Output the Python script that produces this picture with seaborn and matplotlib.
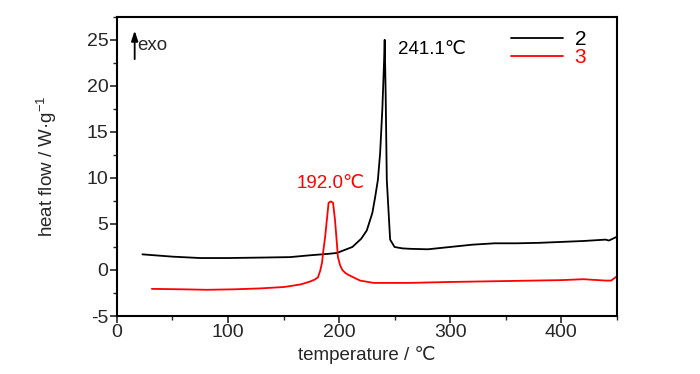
import pandas as pd
import matplotlib.pyplot as plt
import seaborn as sns
from matplotlib.ticker import MultipleLocator

# === DSC traces ===
temp_2 = [23, 50, 75, 100, 130, 156, 174, 190, 198, 212, 220, 225, 230, 232.5, 235, 237,
          239, 240.5, 241.1, 242, 243, 246, 250, 257, 264, 280, 300, 320, 340, 360, 380,
          400, 420, 440, 443, 450]
flow_2 = [1.7, 1.45, 1.3, 1.3, 1.35, 1.4, 1.6, 1.75, 1.85, 2.5, 3.4, 4.3, 6.2, 7.9, 9.8, 12.7,
          17.5, 22.5, 25.0, 19.0, 9.8, 3.3, 2.5, 2.35, 2.3, 2.25, 2.5, 2.75, 2.9, 2.9, 2.95,
          3.05, 3.15, 3.3, 3.2, 3.6]

temp_3 = [31.5, 60, 81, 105, 129, 150, 156, 166, 174, 178, 181, 183, 184.7, 185.6, 187.5, 189,
          190.6, 192.6, 194.6, 196.4, 198, 199, 201, 203, 205.5, 208, 213, 219, 231, 264, 300,
          350, 400, 420, 440, 445, 450]
flow_3 = [-2.05, -2.1, -2.15, -2.1, -2.0, -1.85, -1.75, -1.55, -1.25, -1.05, -0.8, -0.1, 0.8, 1.85, 3.6, 5.4,
          7.3, 7.45, 7.3, 5.4, 3.0, 1.4, 0.5, 0.0, -0.3, -0.5, -0.8, -1.15, -1.4, -1.4, -1.3,
          -1.2, -1.1, -1.0, -1.15, -1.15, -0.7]

series_names = ["2", "3"]
series_colors = ["black", "red"]

peak_labels = ["241.1℃", "192.0℃"]


def build_frame():
    df2 = pd.DataFrame({"temperature": temp_2, "heat flow": flow_2, "sample": series_names[0]})
    df3 = pd.DataFrame({"temperature": temp_3, "heat flow": flow_3, "sample": series_names[1]})
    return pd.concat([df2, df3], ignore_index=True)


def main():
    sns.set_style("ticks")
    plt.rcParams["font.family"] = ["Liberation Sans", "DejaVu Sans"]
    plt.rcParams["axes.unicode_minus"] = False
    plt.rcParams["mathtext.fontset"] = "custom"
    plt.rcParams["mathtext.rm"] = "Liberation Sans"

    df = build_frame()

    fig = plt.figure(figsize=(7.0, 3.74), dpi=100)
    ax = fig.add_axes([0.167, 0.155, 0.714, 0.8])

    sns.lineplot(data=df, x="temperature", y="heat flow", hue="sample",
                 palette=dict(zip(series_names, series_colors)), sort=False,
                 estimator=None, linewidth=1.3, ax=ax)

    ax.set_xlim(0, 450)
    ax.set_ylim(-5, 27.5)
    ax.xaxis.set_major_locator(MultipleLocator(100))
    ax.xaxis.set_minor_locator(MultipleLocator(50))
    ax.yaxis.set_major_locator(MultipleLocator(5))
    ax.yaxis.set_minor_locator(MultipleLocator(2.5))
    ax.tick_params(which="major", direction="out", length=5, width=1.2, labelsize=14, pad=1)
    ax.tick_params(which="minor", direction="out", length=3, width=1.0)
    ax.tick_params(top=False, right=False, which="both")
    for sp in ax.spines.values():
        sp.set_linewidth(1.5)
        sp.set_color("black")

    ax.set_xlabel("temperature / ℃", fontsize=13.5, labelpad=3)
    ax.set_ylabel("heat flow / W·g$^{\\mathrm{-1}}$", fontsize=13.5, labelpad=20)

    # peak annotations
    ax.text(253, 23.9, peak_labels[0], color="black", fontsize=13.5, ha="left", va="center")
    ax.text(192, 9.4, peak_labels[1], color="red", fontsize=13.5, ha="center", va="center")

    # exo arrow
    ax.annotate("", xy=(16, 26.3), xytext=(16, 22.6),
                arrowprops=dict(arrowstyle="-|>,head_width=0.2,head_length=0.6",
                                color="black", lw=1.3))
    ax.text(18.5, 24.4, "exo", fontsize=13.5, ha="left", va="center")

    leg = ax.legend(loc="upper right", frameon=False, fontsize=15, handlelength=2.5,
                    labelspacing=-0.05, handletextpad=0.55, borderaxespad=0.1,
                    bbox_to_anchor=(0.96, 0.99), labelcolor="linecolor")
    for line in leg.get_lines():
        line.set_linewidth(1.3)

    fig.savefig("out.png", dpi=100)


if __name__ == "__main__":
    main()
